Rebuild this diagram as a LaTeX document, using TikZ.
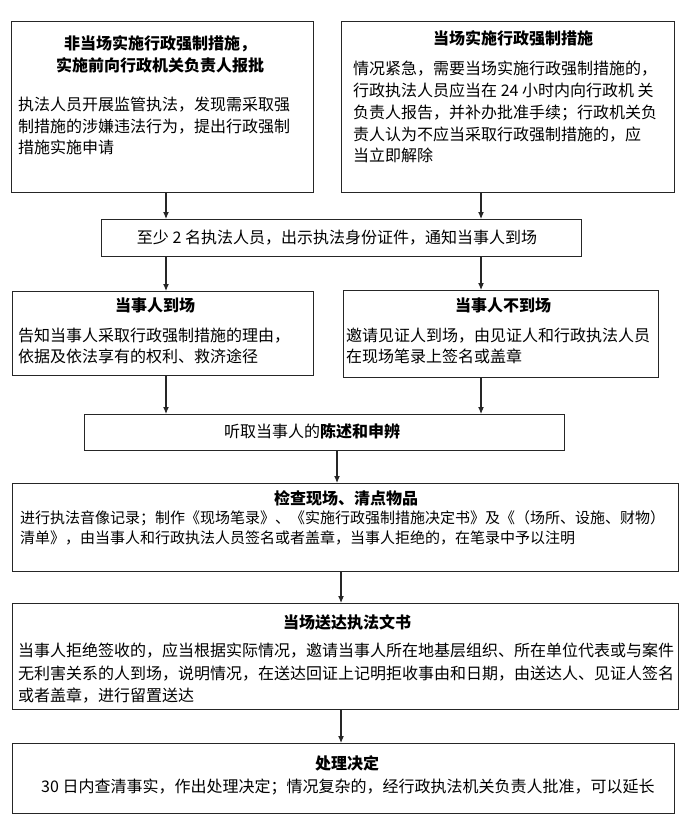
\documentclass[tikz,border=0pt]{standalone}
\usepackage{fontspec}
\setmainfont{Noto Sans CJK SC}
\usetikzlibrary{positioning, arrows.meta}

\begin{document}
\begin{tikzpicture}[x=1pt, y=-1pt,
    box/.style={draw=black!85, line width=1.1pt, anchor=north west, inner sep=0pt},
    head/.style={font=\fontsize{16}{22}\selectfont\bfseries, anchor=north, inner sep=0pt, align=center},
    body/.style={font=\fontsize{16}{21.5}\selectfont, anchor=north west, inner sep=0pt, align=left},
    arr/.style={-{Latex[length=7pt,width=6pt]}, line width=1.1pt, black!85}]
        \useasboundingbox (0,0) rectangle (687,837);

        % Two ways to start
        \node[box, minimum width=302pt, minimum height=171pt] (nonsite) at (11,21) {};
        \node[head] (nonsite-t) at (160,35) {非当场实施行政强制措施，\\实施前向行政机关负责人报批};
        \node[body] (nonsite-b) at (18,97) {执法人员开展监管执法，发现需采取强\\制措施的涉嫌违法行为，提出行政强制\\措施实施申请};

        \node[box, minimum width=333pt, minimum height=171pt] (onsite) at (341,21) {};
        \node[head] (onsite-t) at (513,30) {当场实施行政强制措施};
        \node[body, font=\fontsize{16}{21.8}\selectfont] (onsite-b) at (353,61) {情况紧急，需要当场实施行政强制措施的，\\行政执法人员应当在 24 小时内向行政机 关\\负责人报告，并补办批准手续；行政机关负\\责人认为不应当采取行政强制措施的，应\\当立即解除};

        % Notify the party
        \node[box, minimum width=480pt, minimum height=37pt] (notify) at (101,219) {};
        \node[body, anchor=north] (notify-b) at (337,230) {至少 2 名执法人员，出示执法身份证件，通知当事人到场};

        % Party present or absent
        \node[box, minimum width=301pt, minimum height=84pt] (present) at (12,291) {};
        \node[head] (present-t) at (155,298) {当事人到场};
        \node[body, font=\fontsize{16}{21}\selectfont] (present-b) at (18,328) {告知当事人采取行政强制措施的理由，\\依据及依法享有的权利、救济途径};

        \node[box, minimum width=315pt, minimum height=87pt] (absent) at (343,290) {};
        \node[head] (absent-t) at (503,298) {当事人不到场};
        \node[body, font=\fontsize{16}{21}\selectfont] (absent-b) at (346,328) {邀请见证人到场，由见证人和行政执法人员\\在现场笔录上签名或盖章};

        % Hearing
        \node[box, minimum width=480pt, minimum height=36pt] (hearing) at (84,414) {};
        \node[body, anchor=north] (hearing-b) at (312,423) {听取当事人的\textbf{陈述和申辨}};

        % Inspection
        \node[box, minimum width=666pt, minimum height=88pt] (inspect) at (12,483) {};
        \node[head] (inspect-t) at (346,490) {检查现场、清点物品};
        \node[body, font=\fontsize{15}{20}\selectfont] (inspect-b) at (20,510.5) {进行执法音像记录；制作《现场笔录》、《实施行政强制措施决定书》及《（场所、设施、财物）\\清单》，由当事人和行政执法人员签名或者盖章，当事人拒绝的，在笔录中予以注明};

        % Serving the documents
        \node[box, minimum width=666pt, minimum height=106pt] (serve) at (12,603) {};
        \node[head] (serve-t) at (347,614) {当场送达执法文书};
        \node[body, font=\fontsize{16}{22.5}\selectfont] (serve-b) at (18,643) {当事人拒绝签收的，应当根据实际情况，邀请当事人所在地基层组织、所在单位代表或与案件\\无利害关系的人到场，说明情况，在送达回证上记明拒收事由和日期，由送达人、见证人签名\\或者盖章，进行留置送达};

        % Decision
        \node[box, minimum width=662pt, minimum height=70pt] (decide) at (12,743) {};
        \node[head] (decide-t) at (347,755) {处理决定};
        \node[body] (decide-b) at (41,779) {30 日内查清事实，作出处理决定；情况复杂的，经行政执法机关负责人批准，可以延长};

        % Arrows
        \coordinate (lx) at (166,0);
        \coordinate (rx) at (481,0);
        \coordinate (mx) at (337,0);
        \coordinate (nx) at (341,0);
        \draw[arr] (nonsite.south -| lx) -- (notify.north -| lx);
        \draw[arr] (onsite.south -| rx) -- (notify.north -| rx);
        \draw[arr] (notify.south -| lx) -- (present.north -| lx);
        \draw[arr] (notify.south -| rx) -- (absent.north -| rx);
        \draw[arr] (present.south -| lx) -- (hearing.north -| lx);
        \draw[arr] (absent.south -| rx) -- (hearing.north -| rx);
        \draw[arr] (hearing.south -| mx) -- (inspect.north -| mx);
        \draw[arr] (inspect.south -| nx) -- (serve.north -| nx);
        \draw[arr] (serve.south -| nx) -- (decide.north -| nx);
    \end{tikzpicture}
\end{document}
